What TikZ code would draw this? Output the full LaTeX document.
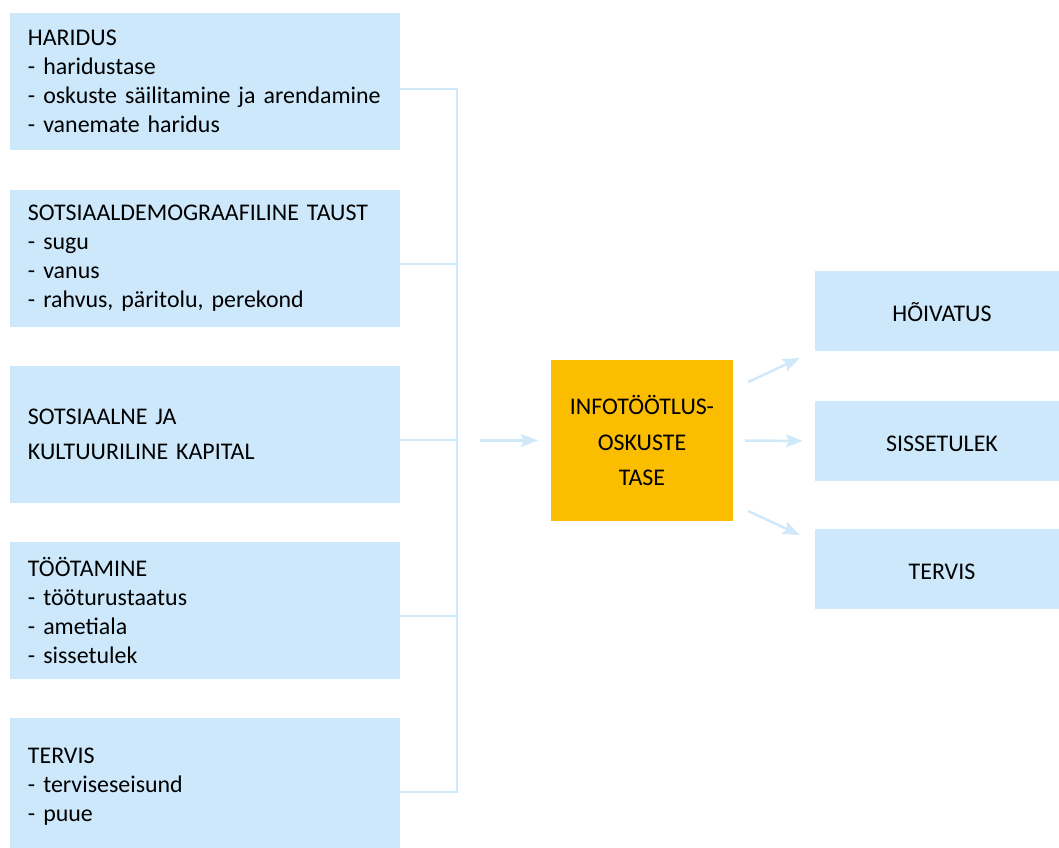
\documentclass[tikz,border=0pt]{standalone}
\usepackage{fontspec}
\setmainfont{Carlito}[WordSpace=0.8]
\usepackage{tikz}
\usetikzlibrary{positioning, arrows.meta}
\definecolor{kastsinine}{HTML}{CCE8FA}
\definecolor{joonsinine}{HTML}{CFE9FA}
\definecolor{oranz}{HTML}{FBBD00}

\begin{document}
\begin{tikzpicture}[x=1bp, y=-1bp,
    tegur/.style={fill=kastsinine, minimum width=390bp, minimum height=137bp, text width=354bp,
                  inner xsep=18bp, align=left, font=\fontsize{24}{29}\selectfont},
    tulem/.style={fill=kastsinine, minimum width=254bp, minimum height=80bp, align=center,
                  text height=21bp, text depth=0bp, font=\fontsize{24}{29}\selectfont},
    joon/.style={joonsinine, line width=2.5bp},
    nool/.style={joonsinine, line width=2.5bp, -{Stealth[length=17bp, width=13bp, inset=3bp]}}]
\useasboundingbox (0,0) rectangle (1059,848);

% Mojutegurid vasakul
\node[tegur] (haridus) at (205,81.5) {HARIDUS\\- haridustase\\- oskuste säilitamine ja arendamine\\- vanemate haridus};
\node[tegur] (taust) at (205,258.5) {SOTSIAALDEMOGRAAFILINE TAUST\\- sugu\\- vanus\\- rahvus, päritolu, perekond};
\node[tegur] (kapital) at (205,434) {SOTSIAALNE JA\\[6bp]KULTUURILINE KAPITAL};
\node[tegur] (tootamine) at (205,610.5) {TÖÖTAMINE\\- tööturustaatus\\- ametiala\\- sissetulek};
\node[tegur] (tervisV) at (205,786.5) {TERVIS\\- terviseseisund\\- puue};

% Keskne kast
\node[fill=oranz, minimum width=182bp, minimum height=161bp, align=center,
      font=\fontsize{24}{36}\selectfont] (oskused) at (642,440.5) {INFOTÖÖTLUS-\\OSKUSTE\\TASE};

% Tulemused paremal
\node[tulem] (hoivatus) at (942,311) {HÕIVATUS};
\node[tulem] (sissetulek) at (942,441) {SISSETULEK};
\node[tulem] (tervisP) at (942,568.5) {TERVIS};

% Uhendusjooned
\draw[joon] ([yshift=-7.5bp]haridus.east) -- ++(57,0) coordinate (siin) |- ([yshift=-5.5bp]tervisV.east);
\draw[joon] ([yshift=-5.5bp]taust.east) -- ++(57,0);
\draw[joon] ([yshift=-6bp]kapital.east) -- ++(57,0);
\draw[joon] ([yshift=-5.5bp]tootamine.east) -- ++(57,0);

% Nooled
\draw[nool, shorten <=23bp, shorten >=13bp] (siin |- oskused.west) -- (oskused.west);
\draw[nool] ([shift={(15,-58.5)}]oskused.east) -- ([shift={(-15,47)}]hoivatus.west);
\draw[nool] ([shift={(12,0)}]oskused.east) -- ([shift={(-12,0)}]sissetulek.west);
\draw[nool] ([shift={(15,70.5)}]oskused.east) -- ([shift={(-15,-33.5)}]tervisP.west);

\end{tikzpicture}
\end{document}
